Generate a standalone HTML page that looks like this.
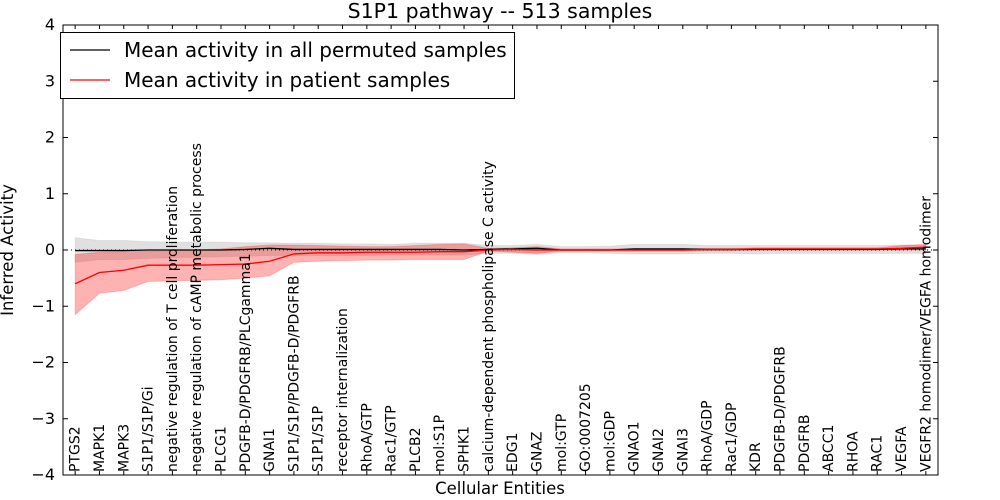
<!DOCTYPE html>
<html><head><meta charset="utf-8"><style>
body{margin:0;background:#fff;}
svg{display:block;font-family:"DejaVu Sans","Liberation Sans",sans-serif;}
</style></head><body>
<svg id="chart" width="1000" height="500"></svg>
<script>
const categories=["PTGS2","MAPK1","MAPK3","S1P1/S1P/Gi","negative regulation of T cell proliferation","negative regulation of cAMP metabolic process","PLCG1","PDGFB-D/PDGFRB/PLCgamma1","GNAI1","S1P1/S1P/PDGFB-D/PDGFRB","S1P1/S1P","receptor internalization","RhoA/GTP","Rac1/GTP","PLCB2","mol:S1P","SPHK1","calcium-dependent phospholipase C activity","EDG1","GNAZ","mol:GTP","GO:0007205","mol:GDP","GNAO1","GNAI2","GNAI3","RhoA/GDP","Rac1/GDP","KDR","PDGFB-D/PDGFRB","PDGFRB","ABCC1","RHOA","RAC1","VEGFA","VEGFR2 homodimer/VEGFA homodimer"];
const patientMean=[-0.6,-0.4,-0.36,-0.27,-0.27,-0.27,-0.26,-0.25,-0.2,-0.07,-0.05,-0.05,-0.04,-0.04,-0.04,-0.03,-0.03,0.0,0.01,0.0,0.0,0.0,0.0,0.0,0.0,0.0,0.01,0.01,0.02,0.02,0.02,0.02,0.02,0.02,0.03,0.05];
const patientLow=[-1.15,-0.77,-0.72,-0.56,-0.55,-0.54,-0.53,-0.5,-0.46,-0.22,-0.2,-0.19,-0.18,-0.18,-0.17,-0.17,-0.17,-0.02,-0.04,-0.06,-0.02,-0.02,-0.02,-0.02,-0.02,-0.02,-0.01,-0.01,0.0,0.0,0.0,0.0,0.0,0.0,0.0,0.0];
const patientHigh=[-0.08,-0.04,-0.03,-0.02,-0.01,0.0,0.02,0.06,0.09,0.09,0.08,0.07,0.06,0.06,0.08,0.1,0.11,0.03,0.04,0.06,0.02,0.02,0.02,0.02,0.02,0.02,0.03,0.03,0.04,0.04,0.04,0.04,0.04,0.04,0.08,0.1];
const permMean=[-0.01,-0.01,-0.01,0.0,0.0,0.0,0.0,0.01,0.03,0.01,0.01,0.01,0.01,0.01,0.01,0.01,0.0,0.01,0.02,0.03,0.0,0.0,0.0,0.02,0.02,0.02,0.01,0.01,0.01,0.01,0.01,0.01,0.01,0.01,0.02,0.02];
const permLow=[-0.22,-0.17,-0.17,-0.15,-0.14,-0.13,-0.12,-0.11,-0.1,-0.1,-0.1,-0.1,-0.1,-0.09,-0.09,-0.09,-0.09,-0.06,-0.06,-0.08,-0.05,-0.05,-0.06,-0.07,-0.07,-0.07,-0.06,-0.06,-0.07,-0.06,-0.06,-0.06,-0.06,-0.06,-0.06,-0.06];
const permHigh=[0.22,0.17,0.17,0.15,0.14,0.14,0.14,0.13,0.13,0.12,0.12,0.11,0.11,0.1,0.12,0.12,0.12,0.08,0.08,0.1,0.06,0.06,0.07,0.1,0.1,0.1,0.08,0.08,0.08,0.08,0.08,0.08,0.08,0.08,0.09,0.09];
const yTicks=[-4,-3,-2,-1,0,1,2,3,4];

const NS="http://www.w3.org/2000/svg";
const svg=document.getElementById('chart');
const L=63,R=938,T=25,B=475;
const X=i=>L+(i+0.5)*(R-L)/categories.length;
const Y=v=>T+(4-v)*(B-T)/8;
function mk(tag,attrs,parent){const e=document.createElementNS(NS,tag);for(const k in attrs)e.setAttribute(k,attrs[k]);(parent||svg).appendChild(e);return e;}
function band(lo,hi,fill,op,name){
  let d="M"+lo.map((v,i)=>X(i)+","+Y(v)).join(" L");
  for(let i=hi.length-1;i>=0;i--)d+=" L"+X(i)+","+Y(hi[i]);
  const p=mk('path',{d:d+"Z",fill:fill,'fill-opacity':op,stroke:fill,'stroke-opacity':op*0.6});
  
  
}
function line(vals,color,name){
  const p=mk('polyline',{points:vals.map((v,i)=>X(i)+","+Y(v)).join(" "),fill:'none',stroke:color,'stroke-width':1.3});
  
  
}
band(permLow,permHigh,'#999999',0.3,'permuted-band');
band(patientLow,patientHigh,'#ff0000',0.3,'patient-band');
const zl=mk('line',{x1:L,x2:R,y1:Y(0),y2:Y(0),stroke:'#000','stroke-dasharray':'1,3'});


line(permMean,'#000','permuted-mean-line');
line(patientMean,'#ff0000','patient-mean-line');
const fr=mk('rect',{x:L,y:T,width:R-L,height:B-T,fill:'none',stroke:'#000'});


yTicks.forEach(v=>{
  mk('line',{x1:L,x2:L+5,y1:Y(v),y2:Y(v),stroke:'#000'});
  mk('line',{x1:R,x2:R-5,y1:Y(v),y2:Y(v),stroke:'#000'});
  const t=mk('text',{x:L-8,y:Y(v)+5,'text-anchor':'end','font-size':16});
  t.textContent=(v<0?"\u2212":"")+Math.abs(v);
  
  
});
categories.forEach((c,i)=>{
  mk('line',{x1:X(i),x2:X(i),y1:B,y2:B-4,stroke:'#000'});
  mk('line',{x1:X(i),x2:X(i),y1:T,y2:T+4,stroke:'#000'});
  const t=mk('text',{x:0,y:0,transform:`translate(${X(i)+4.5},${B-3}) rotate(-90)`,'font-size':14});
  t.textContent=c;
  
  
});
</script>
<svg style="position:absolute;left:0;top:0" width="1000" height="500">
<g font-family="DejaVu Sans, Liberation Sans, sans-serif">
<text x="500" y="18" text-anchor="middle" font-size="20.5">S1P1 pathway -- 513 samples</text>
<text x="500" y="494" text-anchor="middle" font-size="16.5">Cellular Entities</text>
<text transform="translate(13,250) rotate(-90)" text-anchor="middle" font-size="16.5">Inferred Activity</text>
<g>
<rect x="60.5" y="32.5" width="454" height="66" fill="#fff" stroke="#000"/>
<line x1="70" x2="110" y1="50" y2="50" stroke="#000" stroke-width="1.3"/>
<text x="124" y="57" font-size="20">Mean activity in all permuted samples</text>
<line x1="70" x2="110" y1="80" y2="80" stroke="#f00" stroke-width="1.3"/>
<text x="124" y="87" font-size="20">Mean activity in patient samples</text>
</g></g></svg>
</body></html>
